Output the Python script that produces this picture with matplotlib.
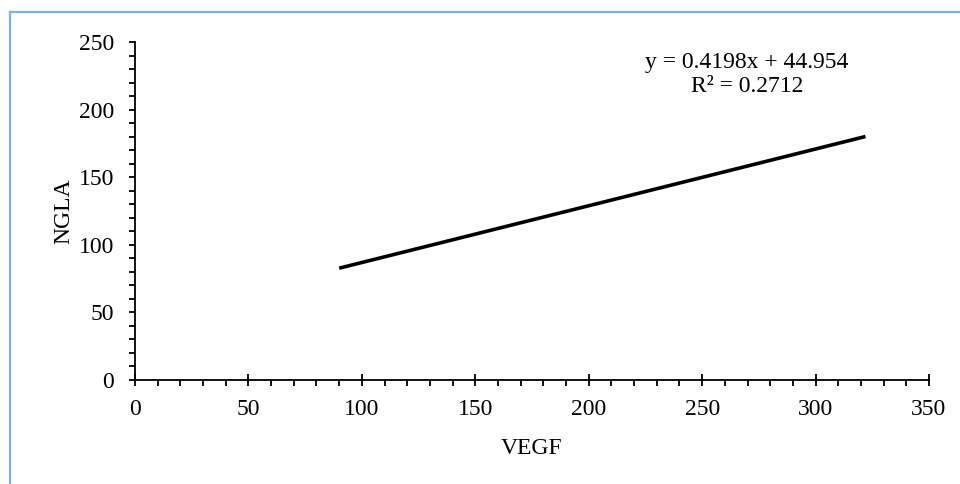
import matplotlib.pyplot as plt
from matplotlib.lines import Line2D
from matplotlib.ticker import MultipleLocator

plt.rcParams['font.family'] = ['Liberation Serif', 'DejaVu Serif']
plt.rcParams['font.size'] = 17

# Trendline endpoints
vegf = [90, 322]
ngla = [82.7, 180.1]
eq_text = 'y = 0.4198x + 44.954'
r2_text = 'R² = 0.2712'

fig = plt.figure(figsize=(9.6, 4.84), dpi=100)
ax = fig.add_axes([0.1406, 0.2149, 0.8271, 0.6983])

ax.plot(vegf, ngla, color='black', linewidth=2.6, solid_capstyle='butt')

ax.set_xlim(0, 350)
ax.set_ylim(0, 250)
ax.xaxis.set_major_locator(MultipleLocator(50))
ax.xaxis.set_minor_locator(MultipleLocator(10))
ax.yaxis.set_major_locator(MultipleLocator(50))
ax.yaxis.set_minor_locator(MultipleLocator(10))

for side in ['top', 'right']:
    ax.spines[side].set_visible(False)
for side in ['left', 'bottom']:
    ax.spines[side].set_linewidth(1.3)
    ax.spines[side].set_color('black')

ax.tick_params(axis='x', which='major', direction='inout', length=8, width=1.3, pad=10, labelsize=17)
ax.tick_params(axis='x', which='minor', direction='out', length=4, width=1.3)
ax.tick_params(axis='y', which='major', direction='out', length=4, width=1.3, pad=11, labelsize=17)
ax.tick_params(axis='y', which='minor', direction='out', length=4, width=1.3)

ax.set_xlabel('VEGF', fontsize=17, labelpad=13)
ax.set_ylabel('NGLA', fontsize=17, labelpad=3)

ax.text(0.771, 0.97, eq_text + '\n' + r2_text, transform=ax.transAxes,
        ha='center', va='top', fontsize=17, linespacing=1.2)

# light blue chart border (left and top edges visible)
border_color = '#7fb1e3'
fig.add_artist(Line2D([9.5 / 960, 9.5 / 960], [0, 1 - 11.5 / 484], color=border_color,
                      linewidth=1.6, transform=fig.transFigure))
fig.add_artist(Line2D([9.5 / 960, 1], [1 - 11.5 / 484, 1 - 11.5 / 484], color=border_color,
                      linewidth=1.6, transform=fig.transFigure))

fig.savefig('out.png', dpi=100)
